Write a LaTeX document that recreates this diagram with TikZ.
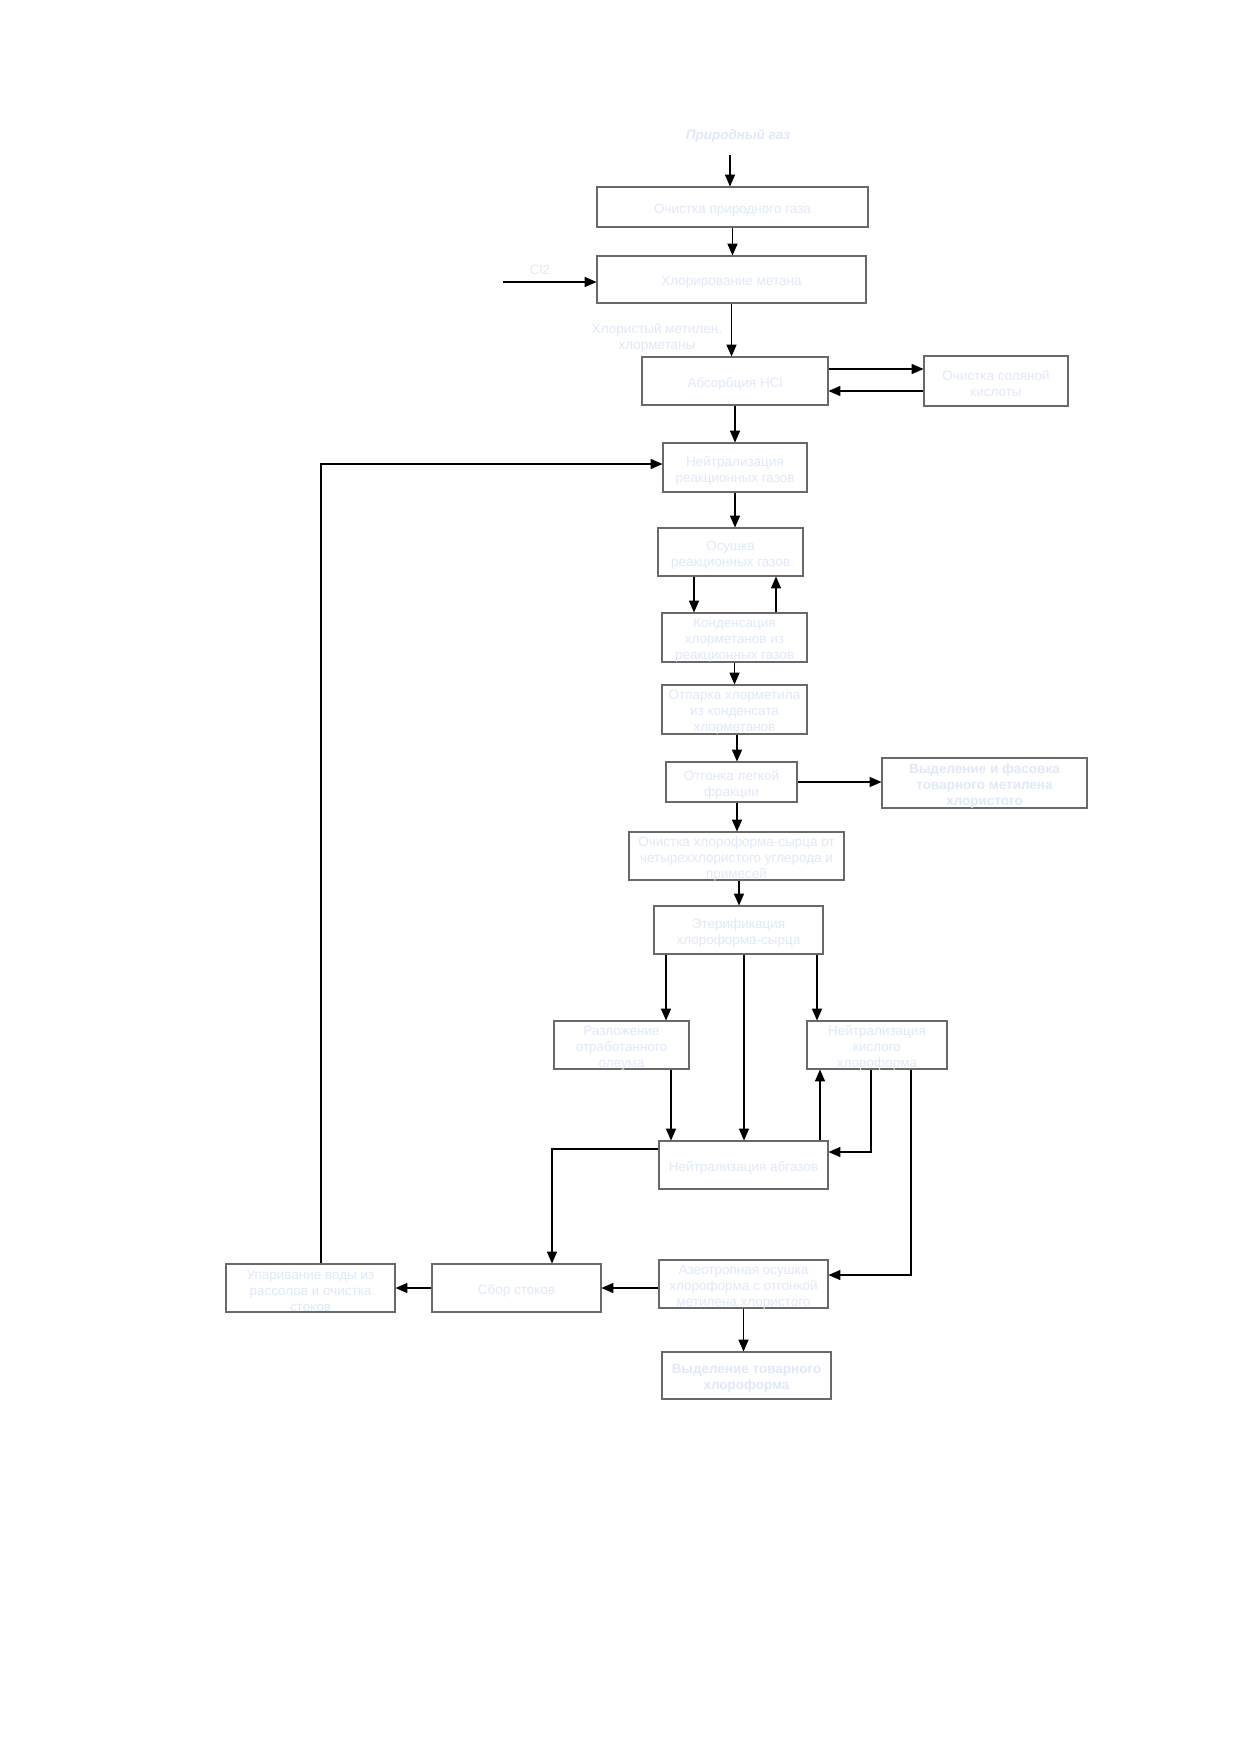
\documentclass[tikz,border=0pt]{standalone}
\usepackage{fontspec}
\setmainfont{Liberation Sans}
\usetikzlibrary{arrows.meta,calc}
\definecolor{txt}{RGB}{224,233,247}
\definecolor{frame}{RGB}{105,105,105}
\tikzset{
  box/.style={draw=frame, line width=0.5pt, fill=white, inner sep=0pt},
  lbl/.style={inner sep=0pt, align=center, text=txt, font=\fontsize{6.5}{7.7}\selectfont},
  arr/.style={draw=black, line width=0.55pt, -{Triangle[length=2mm,width=1.7mm]}},
}
\newcommand\mkbox[6]{\node[box, minimum width=#4*0.16935mm, minimum height=#5*0.16935mm] (#1) at (#2,#3) {};
  \node[lbl] (#1t) at (#2,#3+3) {#6};}
\begin{document}
\begin{tikzpicture}[x=0.16935mm, y=-0.16935mm]
\useasboundingbox[fill=white] (0,0) rectangle (1240,1754);
% boxes
\mkbox{b1}{732.5}{207}{271}{40}{Очистка природного газа}
\mkbox{b2}{731.5}{279.5}{269}{47}{Хлорирование метана}
\mkbox{b3}{735}{381}{186}{48}{Абсорбция HCl}
\mkbox{b3r}{996}{381}{144}{50}{Очистка соляной\\кислоты}
\mkbox{b4}{735}{467.5}{144}{49}{Нейтрализация\\реакционных газов}
\mkbox{b5}{730.5}{552}{145}{48}{Осушка\\реакционных газов}
\mkbox{b6}{734.5}{637.5}{145}{49}{Конденсация\\хлорметанов из\\реакционных газов}
\mkbox{b7}{734.5}{709.5}{145}{49}{Отпарка хлорметила\\из конденсата\\хлорметанов}
\mkbox{b8}{731.5}{782}{131}{40}{Отгонка легкой\\фракции}
\mkbox{b9}{984.5}{783}{205}{50}{\bfseries Выделение и фасовка\\\bfseries товарного метилена\\\bfseries хлористого}
\mkbox{b10}{736.5}{856}{215}{48}{Очистка хлороформа-сырца от\\четыреххлористого углерода и\\примесей}
\mkbox{b11}{738.5}{930}{169}{48}{Этерификация\\хлороформа-сырца}
\mkbox{b12}{621.5}{1045}{135}{48}{Разложение\\отработанного\\олеума}
\mkbox{b13}{877}{1045}{140}{48}{Нейтрализация\\кислого\\хлороформа}
\mkbox{b14}{743.5}{1165}{169}{48}{Нейтрализация абгазов}
\mkbox{b15}{743.5}{1284}{169}{48}{Азеотропная осушка\\хлороформа с отгонкой\\метилена хлористого}
\mkbox{b16}{746.5}{1375.5}{169}{47}{\bfseries Выделение товарного\\\bfseries хлороформа}
\mkbox{b17}{516.5}{1288}{169}{48}{Сбор стоков}
\mkbox{b18}{310.5}{1288}{169}{48}{Упаривание воды из\\рассолов и очистка\\стоков}
% labels
\node[lbl, font=\fontsize{6.5}{7.7}\selectfont\bfseries\itshape] (lng) at (738,136) {Природный газ};
\node[lbl] (lcl) at (540,270) {Cl2};
\node[lbl] (lhm) at (657,338) {Хлористый метилен,\\хлорметаны};
\coordinate (ng) at (730,155);
\coordinate (cl) at (503,282);
% connectors
\draw[arr] (ng) -- (ng |- b1.north);
\draw[arr] (b1.south) -- (b1.south |- b2.north);
\draw[arr] (cl) -- (cl -| b2.west);
\draw[arr] (b2.south) -- (b2.south |- b3.north);
\draw[arr] (b3.east |- 0,369) -- (b3r.west |- 0,369);
\draw[arr] (b3r.west |- 0,391) -- (b3.east |- 0,391);
\draw[arr] (b3.south) -- (b3.south |- b4.north);
\draw[arr] (b4.south) -- (b4.south |- b5.north);
\draw[arr] (b5.south -| 694,0) -- (b6.north -| 694,0);
\draw[arr] (b6.north -| 776,0) -- (b5.south -| 776,0);
\draw[arr] (b6.south) -- (b6.south |- b7.north);
\draw[arr] (b7.south -| 737,0) -- (b8.north -| 737,0);
\draw[arr] (b8.east) -- (b8.east -| b9.west);
\draw[arr] (b8.south -| 737,0) -- (b10.north -| 737,0);
\draw[arr] (b10.south -| 739,0) -- (b11.north -| 739,0);
\draw[arr] (b11.south -| 666,0) -- (b12.north -| 666,0);
\draw[arr] (b11.south -| 744,0) -- (b14.north -| 744,0);
\draw[arr] (b11.south -| 817,0) -- (b13.north -| 817,0);
\draw[arr] (b12.south -| 671,0) -- (b14.north -| 671,0);
\draw[arr] (b14.north -| 820,0) -- (b13.south -| 820,0);
\draw[arr] (b13.south -| 871,0) -- (871,1152) -- (b14.east |- 0,1152);
\draw[arr] (b13.south -| 911,0) -- (911,1275) -- (b15.east |- 0,1275);
\draw[arr] (b14.west |- 0,1149) -- (552,1149) -- (b17.north -| 552,0);
\draw[arr] (b15.south) -- (b15.south |- b16.north);
\draw[arr] (b15.west |- 0,1288) -- (b17.east |- 0,1288);
\draw[arr] (b17.west) -- (b18.east);
\draw[arr] (b18.north -| 321,0) -- (321,464) -- (b4.west |- 0,464);
\end{tikzpicture}
\end{document}
